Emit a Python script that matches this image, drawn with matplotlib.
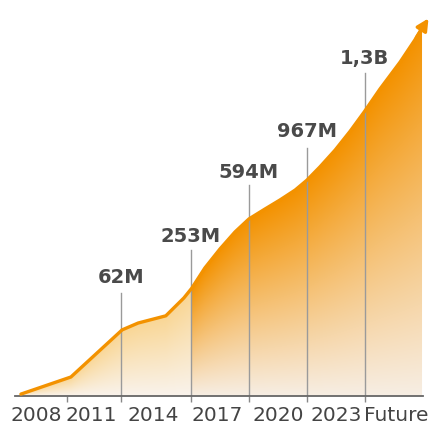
import numpy as np
import matplotlib
matplotlib.use("Agg")
import matplotlib.pyplot as plt
from matplotlib.patches import Polygon

# ----------------------------
# Data (chart units: x 0-100 across, y 0-100 up)
# ----------------------------
curve_x = [2.6, 14.5, 26.7, 30.5, 37.1, 41.4, 43.3, 46.4, 50.0, 53.6, 56.9, 60.7,
           64.3, 67.9, 70.7, 73.8, 77.4, 81.0, 84.3, 88.1, 92.9, 96.4, 98.1, 100.0]
curve_y = [0.5, 5.0, 17.4, 19.2, 21.1, 25.8, 28.4, 33.7, 38.7, 43.2, 46.6, 49.2,
           51.6, 54.2, 56.8, 60.3, 64.7, 69.7, 74.7, 80.8, 87.9, 93.7, 96.8, 100.0]
fill_end = 98.1

year_labels = ["2008", "2011", "2014", "2017", "2020", "2023", "Future"]
year_pos = [6.3, 19.4, 34.1, 49.4, 63.8, 77.6, 91.9]
separators = [13.6, 26.4, 43.1, 56.9, 70.7, 84.5]

milestones = ["62M", "253M", "594M", "967M", "1,3B"]
milestone_x = [26.4, 43.1, 56.9, 70.7, 84.5]
milestone_top = [27.1, 38.4, 55.5, 65.3, 85.0]
milestone_label_y = [31.3, 42.1, 58.9, 69.7, 88.9]

split_x = 43.1  # pale section to the left, orange section to the right

# ----------------------------
# Figure
# ----------------------------
fig = plt.figure(figsize=(4.30, 4.24), dpi=100)
ax = fig.add_axes([10 / 430, 28 / 424, 420 / 430, 380 / 424])
ax.set_xlim(0, 100)
ax.set_ylim(0, 100)

cx = np.array(curve_x)
cy = np.array(curve_y)
mask = cx <= fill_end
poly_x = np.concatenate([cx[mask], [fill_end, cx[0]]])
poly_y = np.concatenate([cy[mask], [0, 0]])
poly = Polygon(np.column_stack([poly_x, poly_y]), closed=True,
               facecolor="none", edgecolor="none")
ax.add_patch(poly)

# gradient image: per column, from curve (top colour) down to baseline (pale)
nx, ny = 600, 600
gx = np.linspace(0, 100, nx)
gy = np.linspace(0, 100, ny)
top_h = np.interp(gx, cx, cy)
t = 1 - gy[:, None] / np.maximum(top_h[None, :], 1e-6)
t = np.clip(t, 0, 1)
orange_top = np.array([243, 146, 0]) / 255
orange_bot = np.array([247, 238, 228]) / 255
pale_top = np.array([250, 214, 148]) / 255
pale_bot = np.array([249, 243, 236]) / 255
right = (gx >= split_x)[None, :, None]
top_c = np.where(right, orange_top, pale_top)
bot_c = np.where(right, orange_bot, pale_bot)
img = top_c + (bot_c - top_c) * t[:, :, None]
im = ax.imshow(img, extent=[0, 100, 0, 100], origin="lower",
               aspect="auto", zorder=1, interpolation="bilinear")
im.set_clip_path(poly)

# milestone lines and labels
for lab, x, top, ly in zip(milestones, milestone_x, milestone_top, milestone_label_y):
    ax.plot([x, x], [0, top], color="#9a9a9a", lw=1.0, zorder=2)
    ax.text(x, ly, lab, ha="center", va="center", fontsize=14,
            fontweight="bold", color="#4a4a4a", zorder=4)

# curve with arrow head
ax.plot(cx[:-1], cy[:-1], color="#f39200", lw=2.4, zorder=3,
        solid_capstyle="round", solid_joinstyle="round")
ax.annotate("", xy=(cx[-1], cy[-1]), xytext=(cx[-3], cy[-3]),
            arrowprops=dict(arrowstyle="-|>,head_length=0.7,head_width=0.35",
                            color="#f39200", lw=2.4),
            annotation_clip=False, zorder=3)

# axis
for s in ["top", "right", "left"]:
    ax.spines[s].set_visible(False)
ax.spines["bottom"].set_bounds(1.2, 98.3)
ax.spines["bottom"].set_color("#666666")
ax.spines["bottom"].set_linewidth(1.3)
ax.set_yticks([])
ax.set_xticks(year_pos)
ax.set_xticklabels(year_labels)
ax.tick_params(axis="x", which="major", length=0, pad=7,
               labelsize=14.5, labelcolor="#444444")
ax.set_xticks(separators, minor=True)
ax.tick_params(axis="x", which="minor", length=4, width=1, color="#888888")

fig.savefig("out.png", dpi=100)
